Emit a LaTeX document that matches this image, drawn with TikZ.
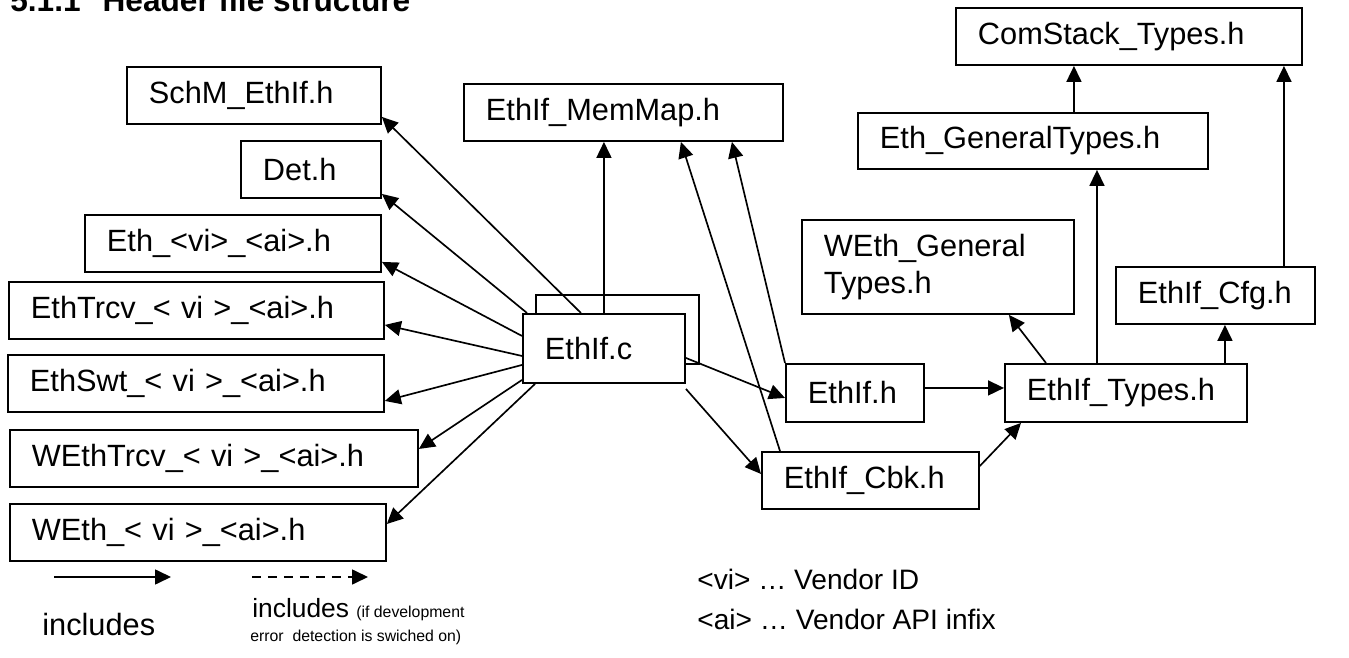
\documentclass[tikz,border=0pt]{standalone}
\usepackage{fontspec}
\setmainfont{Liberation Sans}
\usetikzlibrary{arrows.meta}
\begin{document}
\begin{tikzpicture}[x=0.02cm,y=-0.02cm,
  font=\fontsize{17.5}{21}\selectfont,
  hdr/.style={draw,fill=white,line width=1.1pt,anchor=north west,inner xsep=0.44cm,inner ysep=0pt,minimum height=1.14cm,align=left,text width=#1},
  inc/.style={line width=0.95pt,-{Triangle[length=0.32cm,width=0.3cm]}}]
\useasboundingbox (0,0) rectangle (1349,658);
\node [anchor=base west,inner sep=0,font=\fontsize{18}{22}\selectfont\bfseries] (v0) at (10,12) {5.1.1\hspace{0.44cm}Header file structure};
\node [hdr=4.2cm] (v1) at (126,66) {SchM\_EthIf.h};
\node [hdr=1.92cm] (v2) at (240,140) {Det.h};
\node [hdr=5.04cm] (v3) at (84,214) {Eth\_<vi>\_<ai>.h};
\node [hdr=6.62cm] (v4) at (8,281) {EthTrcv\_< vi >\_<ai>.h};
\node [hdr=6.64cm] (v5) at (7,354) {EthSwt\_< vi >\_<ai>.h};
\node [hdr=7.28cm] (v6) at (9,429) {WEthTrcv\_< vi >\_<ai>.h};
\node [hdr=6.64cm] (v7) at (9,503) {WEth\_< vi >\_<ai>.h};
\node [hdr=2.38cm,minimum height=1.38cm] (v8) at (535,294) {};
\node [hdr=2.36cm,minimum height=1.38cm] (v9) at (522,313) {EthIf.c};
\node [hdr=5.5cm] (v10) at (463,83) {EthIf\_MemMap.h};
\node [hdr=6.04cm] (v11) at (955,7) {ComStack\_Types.h};
\node [hdr=6.12cm,minimum height=1.12cm] (v12) at (857,112) {Eth\_GeneralTypes.h};
\node [hdr=4.56cm,minimum height=1.88cm] (v13) at (801,219) {WEth\_General\\Types.h};
\node [hdr=3.1cm] (v14) at (1115,266) {EthIf\_Cfg.h};
\node [hdr=1.88cm,minimum height=1.16cm] (v15) at (785,363) {EthIf.h};
\node [hdr=3.96cm,minimum height=1.16cm] (v16) at (1004,363) {EthIf\_Types.h};
\node [hdr=3.46cm] (v17) at (761,451) {EthIf\_Cbk.h};
\draw ([xshift=-0.46cm]v9.north) edge [inc] ([yshift=0.16cm]v1.south east);
\draw ([xshift=0.1cm]v9.north west) edge [inc] ([yshift=0.1cm]v2.south east);
\draw ([yshift=0.25cm]v9.west) edge [inc] ([yshift=0.22cm]v3.south east);
\draw ([yshift=-0.15cm]v9.west) edge [inc] ([yshift=0.3cm]v4.south east);
\draw ([yshift=-0.33cm]v9.west) edge [inc] ([yshift=0.24cm]v5.south east);
\draw ([yshift=0.08cm]v9.south west) edge [inc] ([yshift=0.19cm]v6.east);
\draw ([xshift=0.26cm]v9.south west) edge [inc] ([yshift=0.17cm]v7.east);
\draw (v9.north) edge [inc] (v9.north |- v10.south);
\draw ([yshift=-0.19cm]v9.east) edge [inc] ([yshift=-0.1cm]v15.west);
\draw ([yshift=-0.1cm]v9.south east) edge [inc] ([yshift=0.13cm]v17.west);
\draw ([xshift=0.38cm]v17.north west) edge [inc] ([xshift=1.15cm]v10.south);
\draw (v15.north west) edge [inc] ([xshift=2.17cm]v10.south);
\draw ([yshift=0.1cm]v15.east) edge [inc] ([yshift=0.1cm]v16.west);
\draw ([yshift=0.29cm]v17.east) edge [inc] ([xshift=0.34cm]v16.south west);
\draw ([xshift=0.84cm]v16.north west) edge [inc] ([xshift=-1.32cm]v13.south east);
\draw ([xshift=1.86cm]v16.north west) edge [inc] ([xshift=1.86cm]v16.north west |- v12.south);
\draw ([xshift=4.42cm]v16.north west) edge [inc] ([xshift=4.42cm]v16.north west |- v14.south);
\draw ([xshift=4.34cm]v12.north west) edge [inc] ([xshift=4.34cm]v12.north west |- v11.south);
\draw ([xshift=3.38cm]v14.north west) edge [inc] ([xshift=3.38cm]v14.north west |- v11.south);
\coordinate (l1) at (54,577);
\coordinate (l2) at (171,577);
\coordinate (l3) at (252,577);
\coordinate (l4) at (368,577);
\draw (l1) edge [inc] (l2);
\draw (l3) edge [inc,dash pattern=on 0.18cm off 0.14cm] (l4);
\node [anchor=base west,inner sep=0] (v18) at (42,635) {includes};
\node [anchor=base west,inner sep=0] (v19) at (252,617) {\fontsize{15}{18}\selectfont includes \fontsize{9}{11}\selectfont (if development};
\node [anchor=base west,inner sep=0,font=\fontsize{9}{11}\selectfont] (v20) at (250,641) {error\ \ detection is swiched on)};
\node [anchor=base west,inner sep=0,font=\fontsize{16}{19}\selectfont] (v21) at (697,589) {<vi> … Vendor ID};
\node [anchor=base west,inner sep=0,font=\fontsize{16}{19}\selectfont] (v22) at (697,629) {<ai> … Vendor API infix};
\end{tikzpicture}
\end{document}
